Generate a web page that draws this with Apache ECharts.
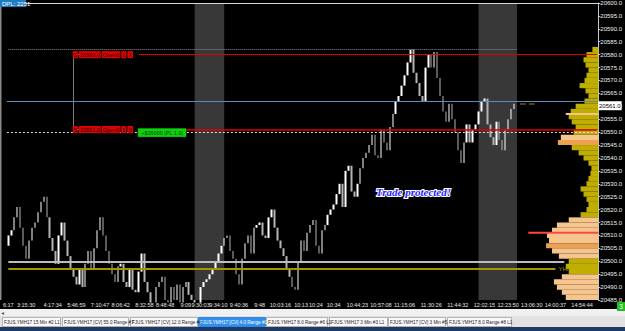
<!DOCTYPE html>
<html><head><meta charset="utf-8">
<script src="https://cdn.jsdelivr.net/npm/echarts@6/dist/echarts.min.js"></script>
<style>html,body{margin:0;padding:0;background:#000;overflow:hidden}#c{width:625px;height:331px}</style>
</head><body><div id="c"></div>
<script>
// ---------- data ----------
const slotCount = 200;
const tickSlots = [0,6,15,23,31,38,46,53,60,65,71,78,85,92,99,104,110,118,126,134,143,152,161,169,177,185,194];
const tickTexts = ['6:17','3:15:30','4:17:34','5:46:59','7:10:47','8:06:42','8:32:58','8:48:48','9:09','9:30:03','9:34:10','9:40:36','9:48','10:03:16','10:13','10:24','10:34','10:44:23','10:57:08','11:15:06','11:30:26','11:44:32','12:02:15','12:23:50','13:06:30','14:00:37','14:54:44'];

const opens = [20506,20510,20512,20517,20521,20513,20506,20501,20508,20513,
 20515,20519,20523,20525,20517,20509,20504,20499,20510,20515,
 20508,20502,20497,20494,20491,20497,20490,20499,20504,20497,
 20505,20512,20517,20510,20504,20499,20495,20492,20498,20499,
 20492,20490,20497,20489,20488,20496,20503,20492,20488,20484,
 20484,20490,20492,20494,20485,20484,20490,20485,20491,20484,
 20490,20492,20487,20485,20484,20484,20490,20492,20493,20495,
 20497,20500,20503,20506,20509,20510,20504,20501,20495,20491,
 20501,20507,20510,20503,20513,20514,20515,20510,20509,20517,
 20520,20513,20508,20505,20502,20497,20494,20490,20489,20500,
 20508,20504,20511,20514,20516,20506,20503,20512,20514,20518,
 20520,20522,20526,20530,20521,20535,20537,20527,20525,20530,
 20536,20540,20542,20545,20549,20541,20540,20551,20546,20543,
 20552,20557,20562,20564,20568,20572,20577,20582,20573,20569,
 20564,20562,20575,20580,20575,20581,20571,20564,20558,20554,
 20561,20555,20550,20543,20538,20546,20553,20546,20551,20553,
 20558,20562,20563,20553,20548,20545,20554,20547,20543,20551,
 20555,20559,20561];
const closes = [20510,20512,20517,20521,20513,20506,20501,20508,20513,20515,
 20519,20523,20525,20517,20509,20504,20499,20510,20515,20508,
 20502,20497,20494,20491,20497,20490,20499,20504,20497,20505,
 20512,20517,20510,20504,20499,20495,20492,20498,20499,20492,
 20490,20497,20489,20488,20496,20503,20492,20488,20484,20484,
 20490,20492,20494,20485,20484,20490,20485,20491,20484,20490,
 20492,20487,20485,20484,20484,20490,20492,20493,20495,20497,
 20500,20503,20506,20509,20510,20504,20501,20495,20491,20501,
 20507,20510,20503,20513,20514,20515,20510,20509,20517,20520,
 20513,20508,20505,20502,20497,20494,20490,20489,20500,20508,
 20504,20511,20514,20516,20506,20503,20512,20514,20518,20520,
 20522,20526,20530,20521,20535,20537,20527,20525,20530,20536,
 20540,20542,20545,20549,20541,20540,20551,20546,20543,20552,
 20557,20562,20564,20568,20572,20577,20582,20573,20569,20564,
 20562,20575,20580,20575,20581,20571,20564,20558,20554,20561,
 20555,20550,20543,20538,20546,20553,20546,20551,20553,20558,
 20562,20563,20553,20548,20545,20554,20547,20543,20551,20555,
 20559,20561,20561];
const lows = [20506,20508,20512,20517,20513,20506,20501,20501,20508,20511,
 20515,20519,20521,20517,20509,20504,20499,20499,20510,20508,
 20502,20497,20494,20491,20491,20490,20490,20499,20497,20497,
 20505,20512,20510,20504,20499,20495,20492,20492,20495,20492,
 20490,20490,20489,20488,20488,20496,20492,20488,20484,20484,
 20484,20488,20490,20485,20484,20484,20485,20485,20484,20484,
 20488,20487,20485,20484,20484,20484,20488,20489,20491,20493,
 20496,20499,20502,20505,20506,20504,20501,20495,20491,20491,
 20501,20506,20503,20503,20510,20511,20510,20509,20509,20516,
 20513,20508,20505,20502,20497,20494,20490,20489,20489,20500,
 20504,20504,20510,20512,20506,20503,20503,20510,20514,20516,
 20518,20522,20526,20521,20521,20533,20527,20525,20525,20530,
 20536,20538,20541,20545,20541,20540,20540,20546,20543,20543,
 20552,20557,20560,20564,20568,20572,20577,20573,20569,20564,
 20562,20562,20575,20575,20575,20571,20564,20558,20554,20554,
 20555,20550,20543,20538,20538,20546,20546,20546,20549,20553,
 20558,20559,20553,20548,20545,20545,20547,20543,20543,20551,
 20555,20557,20558];
const highs = [20510,20512,20517,20521,20521,20513,20506,20508,20513,20515,
 20519,20523,20525,20525,20517,20509,20504,20510,20515,20515,
 20508,20502,20498,20495,20497,20497,20499,20504,20504,20505,
 20512,20517,20517,20510,20504,20499,20496,20498,20499,20499,
 20494,20497,20497,20492,20496,20503,20503,20492,20488,20488,
 20490,20492,20494,20494,20488,20490,20490,20491,20491,20490,
 20492,20492,20489,20488,20488,20490,20492,20493,20495,20497,
 20500,20503,20506,20509,20510,20510,20505,20501,20495,20501,
 20507,20510,20510,20513,20514,20515,20515,20513,20517,20520,
 20520,20513,20509,20506,20502,20498,20494,20493,20500,20508,
 20508,20511,20514,20516,20516,20507,20512,20514,20518,20520,
 20522,20526,20530,20530,20535,20537,20537,20529,20530,20536,
 20540,20542,20545,20549,20549,20544,20551,20551,20547,20552,
 20557,20562,20564,20568,20572,20577,20582,20582,20573,20569,
 20566,20575,20580,20580,20581,20581,20571,20564,20558,20561,
 20561,20555,20550,20543,20546,20553,20553,20551,20553,20558,
 20562,20563,20563,20553,20549,20554,20554,20547,20551,20555,
 20559,20561,20562];

// volume profile (price level, volume, zone)
const profilePrices = [20582,20580,20578,20576,20574,20572,20570,20568,20566,20564,20562,20560,20558,20556,20554,20552,20550,20548,20546,20544,20542,20540,20538,20536,20534,20532,20530,20528,20526,20524,20522,20520,20518,20516,20514,20512,20510,20508,20506,20504,20502,20500,20498,20496,20494,20492,20490,20488,20486];
const profileVolumes = [60,120,150,130,100,120,140,190,130,100,140,230,280,300,270,230,250,380,410,270,200,150,100,70,80,100,120,180,150,120,100,120,180,300,420,470,520,500,530,470,400,300,330,300,370,450,420,370,330];
const profileZones = ['out','out','out','out','out','out','out','out','out','out','out','out','out','out','out','out','out','va','hv','out','out','out','out','out','out','out','out','out','out','out','out','out','out','va','va','va','va','va','hv','va','va','out','out','out','va','va','va','va','va'];
const profileMarkPrices = [20557, 20511];
const profileMarkVolumes = [330, 710];
const profileMarkKinds = ['va', 'poc'];

// price levels
const sessionHigh = 20582;
const orderPrices = [20580, 20551];
const orderTexts = ['20580.0', '20551.0'];
const refPrice = 20562;
const entryPrice = 20550;
const roundLevel = 20500;
const yHighPrice = 20497;
const lastPrice = 20561;
const sessionBands = [[63, 73], [159, 172]];

// ---------- fonts ----------
function hasFont(name) {
  const c = document.createElement('canvas').getContext('2d');
  const s = '10:44:23 FJUS.YMH17 Range';
  c.font = '20px monospace'; const a = c.measureText(s).width;
  c.font = "20px '" + name + "', monospace"; const b = c.measureText(s).width;
  return Math.abs(a - b) > 0.5;
}
const NARROW = hasFont('Liberation Sans Narrow');
const FONT = 'Liberation Sans';
const AXFONT = NARROW ? 'Liberation Sans Narrow' : 'Liberation Sans';
const AXSIZE = NARROW ? 7 : 5.5;
const TABSIZE = NARROW ? 5.5 : 4.6;

// ---------- chart ----------
const cats = Array.from({length: slotCount}, (_, i) => String(i));
const labelMap = {};
tickSlots.forEach((s, i) => { labelMap[s] = tickTexts[i]; });
const candles = opens.map((o, i) => [o, closes[i], lows[i], highs[i]]);
const zoneColor = {out: '#bfad00', va: '#f6c58e', hv: '#eda050', poc: '#ff4545'};

const boxRich = {
  q: {backgroundColor: '#e30000', color: '#250000', fontSize: 5.5, fontFamily: AXFONT, padding: [1, 1, 0, 1], lineHeight: 7},
  g: {width: 1, height: 7}
};
function orderLabel(i) {
  return '{q|5}{g|}{q|' + orderTexts[i] + '}{g|}{q|Open0}{g|}{q|1}{g|}{q|X}';
}

const option = {
  animation: false,
  backgroundColor: '#000',
  grid: {left: 0, right: 25, top: 1, bottom: 31, containLabel: false},
  xAxis: [{
    type: 'category', data: cats, boundaryGap: true,
    axisLine: {show: false}, axisTick: {show: false}, splitLine: {show: false},
    axisLabel: {interval: 0, formatter: (v, i) => labelMap[i] || '', color: '#e6e6e6', fontSize: AXSIZE, fontFamily: AXFONT, margin: 2}
  }, {
    type: 'value', min: 0, max: 6000, inverse: true, show: false
  }],
  yAxis: [{
    type: 'value', position: 'right', min: 20485, max: 20600, interval: 5,
    axisLine: {show: true, lineStyle: {color: '#c8c8c8', width: 1}},
    axisTick: {show: true, length: 2, lineStyle: {color: '#c8c8c8'}},
    splitLine: {show: false},
    axisLabel: {formatter: v => v.toFixed(1), color: '#f0f0f0', fontSize: 6, fontFamily: FONT, margin: 2}
  }],
  series: [{
    type: 'custom', name: 'profile', xAxisIndex: 1, yAxisIndex: 0, z: 1, silent: true,
    data: profilePrices.map((p, i) => [profileVolumes[i], p]),
    encode: {x: 0, y: 1},
    renderItem: (params, api) => {
      const a = api.coord([api.value(0), api.value(1) + 1]);
      const b = api.coord([0, api.value(1) - 1]);
      return {type: 'rect', shape: {x: a[0], y: a[1], width: b[0] - a[0], height: b[1] - a[1]},
        style: {fill: zoneColor[profileZones[params.dataIndex]]}};
    }
  }, {
    type: 'custom', name: 'profileMarks', xAxisIndex: 1, yAxisIndex: 0, z: 1, silent: true,
    data: profileMarkPrices.map((p, i) => [profileMarkVolumes[i], p]),
    encode: {x: 0, y: 1},
    renderItem: (params, api) => {
      const a = api.coord([api.value(0), api.value(1)]);
      const b = api.coord([0, api.value(1)]);
      return {type: 'rect', shape: {x: a[0], y: a[1] - 1, width: b[0] - a[0], height: 2},
        style: {fill: zoneColor[profileMarkKinds[params.dataIndex]]}};
    }
  }, {
    type: 'candlestick', name: 'YMH17', xAxisIndex: 0, yAxisIndex: 0, z: 2,
    data: candles, barWidth: 2,
    itemStyle: {color: '#ffffff', color0: '#b4b4b4', borderColor: '#ffffff', borderColor0: '#b4b4b4', borderWidth: 0},
    markArea: {
      silent: true,
      itemStyle: {color: 'rgba(255,255,255,0.22)'},
      data: sessionBands.map(b => [{xAxis: b[0]}, {xAxis: b[1]}])
    },
    markLine: {
      silent: true, symbol: ['none', 'none'], label: {show: false},
      data: [
        {yAxis: 20600, lineStyle: {color: '#d8d8d8', width: 1, type: 'solid'}},
        [{coord: [0, sessionHigh], lineStyle: {color: '#8c8c8c', width: 1, type: 'dotted'}}, {coord: [172, sessionHigh]}],
        [{coord: [22, orderPrices[0]], lineStyle: {color: '#7a7a7a', width: 1, type: 'solid'}}, {coord: [22, orderPrices[1]]}],
        [{coord: [22, orderPrices[0]], lineStyle: {color: '#7a7a7a', width: 1, type: 'solid'}}, {coord: [24, orderPrices[0]]}],
        [{coord: [22, orderPrices[1]], lineStyle: {color: '#7a7a7a', width: 1, type: 'solid'}}, {coord: [24, orderPrices[1]]}],
        [{coord: [44, orderPrices[0]], lineStyle: {color: '#e00000', width: 1.2, type: 'solid'}}, {coord: [199, orderPrices[0]]}],
        {yAxis: refPrice, lineStyle: {color: '#5a8cb8', width: 1, type: 'solid'}},
        [{coord: [44, orderPrices[1]], lineStyle: {color: '#e00000', width: 1.6, type: 'solid'}}, {coord: [199, orderPrices[1]]}],
        {yAxis: entryPrice, lineStyle: {color: '#e2e2e2', width: 1, type: [2, 2]}},
        [{coord: [0, roundLevel], lineStyle: {color: '#bdbdbd', width: 2, type: 'solid'}}, {coord: [188, roundLevel]}],
        [{coord: [0, yHighPrice], lineStyle: {color: '#a89600', width: 2, type: 'solid'},
          label: {show: true, position: 'end', formatter: 'YHi', color: '#a89600', fontSize: 6, fontFamily: FONT, distance: 3}},
         {coord: [185, yHighPrice]}],
        [{coord: [173, lastPrice], lineStyle: {color: '#5c5c26', width: 1.5, type: 'solid'}}, {coord: [175, lastPrice]}],
        [{coord: [176, lastPrice], lineStyle: {color: '#5c5c26', width: 1.5, type: 'solid'}}, {coord: [178, lastPrice]}]
      ]
    },
    markPoint: {
      silent: true, symbol: 'rect', symbolSize: 0,
      data: [
        {coord: [33, orderPrices[0]], label: {show: true, position: 'inside', offset: [-3, 0], formatter: orderLabel(0), rich: boxRich}},
        {coord: [33, orderPrices[1]], label: {show: true, position: 'inside', offset: [-3, 0], formatter: orderLabel(1), rich: boxRich}},
        {coord: [53, entryPrice], label: {show: true, position: 'inside', offset: [-3, 0.5],
          formatter: '+$26000 |PL 1.0|', backgroundColor: '#10d010', borderColor: '#0a8a0a', borderWidth: 0.5,
          color: '#0b3d0b', fontSize: 5.5, fontFamily: AXFONT, padding: [1, 3, 0, 3], lineHeight: 7}},
        {coord: [137, 20527], label: {show: true, position: 'inside', formatter: 'Trade protected!',
          color: '#2323ff', fontSize: 11, fontStyle: 'italic', fontWeight: 'bold', fontFamily: 'Liberation Serif',
          textBorderColor: '#ffffff', textBorderWidth: 2}},
        {coord: [199, lastPrice], label: {show: true, position: 'inside', offset: [13, 2], formatter: lastPrice.toFixed(1),
          backgroundColor: '#ffffff', color: '#000000', fontSize: 6, fontFamily: FONT, padding: [1, 1, 0, 1], lineHeight: 8}}
      ]
    }
  }],
  graphic: []
};

// chrome: border, DPL box, tabs, status
const tabTexts = ['FJUS.YMH17 15 Min #2 L1','FJUS.YMH17 [CV] 55.0 Range #7','FJUS.YMH17 [CV] 12.0 Range #4','FJUS.YMH17 [CV] 4.0 Range #1','FJUS.YMH17 8.0 Range #6 L1','FJUS.YMH17 3 Min #3 L1','FJUS.YMH17 [CV] 3 Min #5','FJUS.YMH17 8.0 Range #8 L1'];
const tabBox = [[2,58],[62,66],[130,67],[198,67],[266,61],[329,58],[388,57],[447,64]];
const activeTab = 3;
const g = option.graphic;
g.push({type: 'rect', shape: {x: 0, y: 0, width: 1.5, height: 300}, style: {fill: '#8a8a8a'}, z: 10});
g.push({type: 'rect', shape: {x: 0, y: 0, width: 26, height: 7}, style: {fill: '#1f7dc4'}, z: 10});
g.push({type: 'text', x: 2, y: 0.5, style: {text: 'DPL: 2251', fill: '#ffffff', fontSize: 6, fontFamily: FONT}, z: 11});
g.push({type: 'rect', shape: {x: 0, y: 309, width: 625, height: 7}, style: {fill: '#f0f0f0'}, z: 10});
g.push({type: 'text', x: 1, y: 309, style: {text: '◂', fill: '#606060', fontSize: 6, fontFamily: 'DejaVu Sans'}, z: 11});
g.push({type: 'rect', shape: {x: 0, y: 316, width: 625, height: 11}, style: {fill: '#e2e2e2'}, z: 10});
g.push({type: 'rect', shape: {x: 0, y: 327, width: 625, height: 4}, style: {fill: '#1d3a66'}, z: 10});
tabTexts.forEach((t, i) => {
  const [x, w] = tabBox[i];
  const act = i === activeTab;
  g.push({type: 'rect', shape: {x: x + 0.5, y: 317.5, width: w, height: 9},
    style: {fill: act ? '#2f8ff0' : '#fafafa', stroke: act ? '#1a6fd0' : '#9a9a9a', lineWidth: 0.7}, z: 11});
  g.push({type: 'text', x: x + 2, y: 319.5, style: {text: t, fill: act ? '#ffffff' : '#1a1a1a', fontSize: TABSIZE, fontFamily: AXFONT}, z: 12});
});
g.push({type: 'rect', shape: {x: 617, y: 302, width: 8, height: 9}, style: {fill: '#1fc01f'}, z: 10});
g.push({type: 'text', x: 619, y: 302.5, style: {text: '3', fill: '#ffffff', fontSize: 7, fontFamily: FONT}, z: 11});

const chart = echarts.init(document.getElementById('c'), null, {renderer: 'svg'});
chart.setOption(option);
</script>
</body></html>
